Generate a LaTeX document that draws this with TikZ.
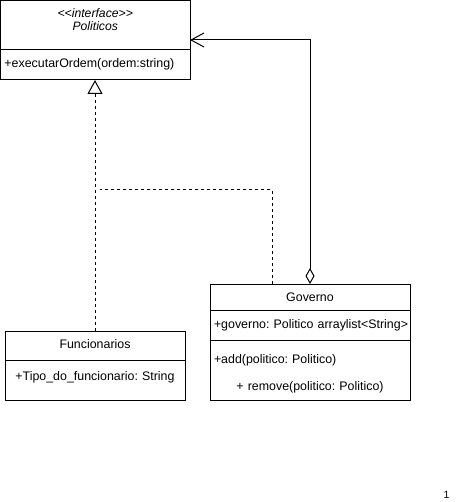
\documentclass[tikz,border=0pt]{standalone}
\usepackage{fontspec}
\setmainfont{Liberation Sans}
\usetikzlibrary{positioning,arrows.meta}
\frenchspacing

\tikzset{
	compart/.style={draw,anchor=north west,outer sep=0pt,inner xsep=4pt,inner ysep=0pt,text height=9pt,text depth=3pt},
	realize/.style={dash pattern=on 3pt off 3pt,-{Triangle[open,length=14pt,width=15pt]}},
	aggr/.style={{Diamond[open,length=16pt,width=9pt]}-{Straight Barb[length=13pt,width=14pt]}},
}

\begin{document}
\begin{tikzpicture}[x=1pt,y=-1pt,line width=1pt,font=\fontsize{12.4}{13}\selectfont]
	\useasboundingbox (0,0) rectangle (459,502);
	
	% interface
	\node[compart,text width=181.5pt,minimum height=49.5pt,align=center,text depth=23.5pt,font=\fontsize{12.2}{13}\selectfont\itshape] (polHead) at (0.5,0.5) {<\kern0pt<interface>\kern0pt>\\Politicos};
	\node[compart,text width=181.5pt,minimum height=30pt,align=left,below right=0pt and 0pt of polHead.south west] (polMeth) {+executarOrdem(ordem:string)};
	
	% classes
	\node[compart,text width=172pt,minimum height=29pt,align=center] (funcTitle) at (5,331) {Funcionarios};
	\node[compart,text width=172pt,minimum height=40pt,align=center,text depth=8pt,below right=0pt and 0pt of funcTitle.south west] (funcAttr) {+Tipo\_do\_funcionario: String};
	
	\node[compart,text width=192pt,minimum height=26pt,align=center,text depth=1pt] (govTitle) at (210,284) {Governo};
	\node[compart,text width=192pt,minimum height=30pt,align=left,below right=0pt and 0pt of govTitle.south west] (govAttr) {\makebox[192pt][l]{+governo: Politico arraylist<String>}};
	\node[compart,text width=192pt,minimum height=60pt,align=left,text depth=22.4pt,below right=0pt and 0pt of govAttr.south west] (govMeth) {+add(politico: Politico)\\[14pt]\makebox[192pt]{+ remove(politico: Politico)}};
	
	% relations
	\coordinate (realJoin) at (100,190);
	\draw[realize] (funcTitle.north) -- (funcTitle.north |- polMeth.south);
	\draw[dash pattern=on 3pt off 3pt] ([xshift=-38pt]govTitle.north) |- (realJoin);
	\draw[aggr] (govTitle.north) |- ([yshift=10pt]polHead.south east);
	
	\node[font=\fontsize{10.5}{12}\selectfont,inner sep=0pt] (pageNum) at (446.5,494.5) {1};
\end{tikzpicture}
\end{document}
